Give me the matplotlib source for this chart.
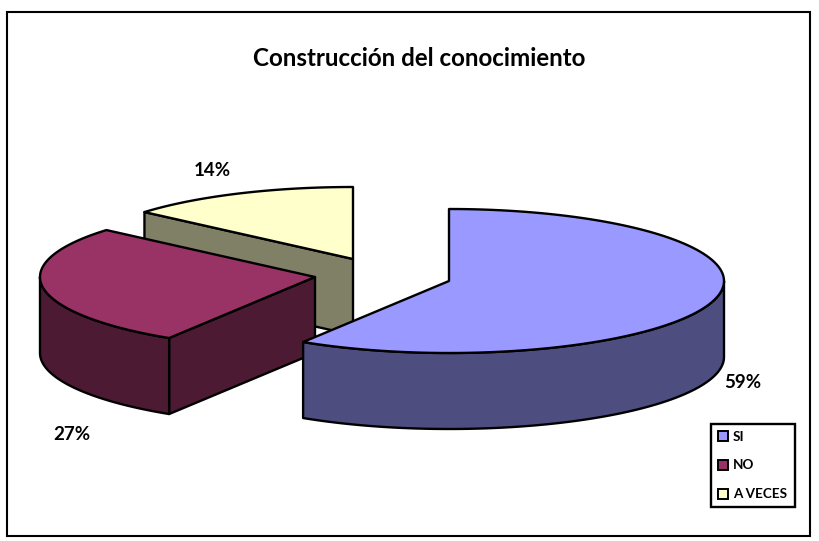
import numpy as np
import matplotlib
matplotlib.use("Agg")
import matplotlib.pyplot as plt
from matplotlib.patches import Patch, Rectangle

plt.rcParams['font.family'] = ['Lato', 'DejaVu Sans']

title = "Construcción del conocimiento"
categories = ["SI", "NO", "A VECES"]
values = [58.9, 27.4, 13.7]
top_colors = ["#9999ff", "#993366", "#ffffcc"]
side_colors = ["#4d4d80", "#4d1a33", "#808066"]
centers = [(449, 281), (315, 277), (353, 259)]
label_pos = [(743, 382), (72, 435), (212, 171)]
RX, RY, DEPTH = 275, 72, 76

fig = plt.figure(figsize=(8.19, 5.41), dpi=100)
ax = fig.add_axes([0, 0, 1, 1])
ax.set_xlim(0, 819)
ax.set_ylim(541, 0)
ax.axis("off")

ax.add_patch(Rectangle((7, 12), 803, 524, fill=False, ec="black", lw=1.5))


def rim(cx, cy, a0, a1, dz=0):
    t = np.radians(np.linspace(a0, a1, 120))
    return cx + RX * np.sin(t), cy - RY * np.cos(t) + dz


edges = np.concatenate([[0], np.cumsum(values)]) / sum(values) * 360
kw = dict(edgecolor="black", linewidth=1.7, joinstyle="round")

for i in reversed(range(len(values))):
    cx, cy = centers[i]
    a0, a1 = edges[i], edges[i + 1]
    # cut face on the starting radius
    if a0 > 180:
        xs, ys = rim(cx, cy, a0, a0)
        x0, y0 = xs[0], ys[0]
        ax.fill([cx, x0, x0, cx], [cy, y0, y0 + DEPTH, cy + DEPTH],
                facecolor=side_colors[i], **kw)
    # outer wall
    w0, w1 = max(a0, 90), min(a1, 270)
    if w1 > w0:
        xt, yt = rim(cx, cy, w0, w1)
        xb, yb = rim(cx, cy, w1, w0, DEPTH)
        ax.fill(np.r_[xt, xb], np.r_[yt, yb], facecolor=side_colors[i], **kw)
    # top face
    xt, yt = rim(cx, cy, a0, a1)
    ax.fill(np.r_[cx, xt], np.r_[cy, yt], facecolor=top_colors[i], **kw)

for v, (x, y) in zip(values, label_pos):
    ax.text(x, y, f"{round(v)}%", ha="center", va="center",
            fontsize=13.5, fontweight="bold", color="black")

ax.text(419.5, 59, title, ha="center", va="center", fontsize=17.4,
        fontweight="bold", color="black")

handles = [Patch(facecolor=c, edgecolor="black", linewidth=1.4) for c in top_colors]
leg = ax.legend(handles, categories, loc="lower left",
                bbox_to_anchor=(711 / 819, 1 - 507 / 541, 84 / 819, 85 / 541),
                mode="expand", borderaxespad=0, fancybox=False, framealpha=1,
                edgecolor="black", handlelength=0.76,
                handleheight=0.76, handletextpad=0.35, labelspacing=1.25,
                borderpad=0.5, prop={"weight": "bold", "size": 9.7})
leg.get_frame().set_linewidth(1.7)

fig.savefig("out.png", dpi=100)
